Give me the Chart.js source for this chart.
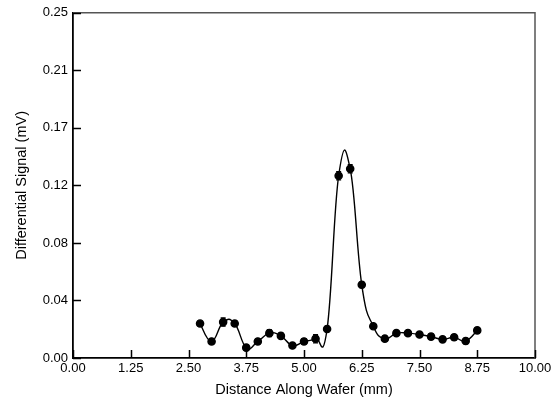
<!DOCTYPE html>
<html>
<head>
<meta charset="utf-8">
<script src="https://cdn.jsdelivr.net/npm/chart.js@4/dist/chart.umd.min.js"></script>
<style>
html,body{margin:0;padding:0;background:#fff;}
#wrap{width:557px;height:401px;}
</style>
</head>
<body>
<div id="wrap"><canvas id="c" width="557" height="401"></canvas></div>
<script>
// Data
const distances = [2.75, 3.00, 3.25, 3.50, 3.75, 4.00, 4.25, 4.50, 4.75, 5.00, 5.25, 5.50,
                   5.75, 6.00, 6.25, 6.50, 6.75, 7.00, 7.25, 7.50, 7.75, 8.00, 8.25, 8.50, 8.75];
const signals   = [0.025, 0.012, 0.026, 0.025, 0.0075, 0.012, 0.018, 0.016, 0.009, 0.012, 0.014, 0.021,
                   0.132, 0.137, 0.053, 0.023, 0.014, 0.018, 0.018, 0.017, 0.0155, 0.0135, 0.015, 0.0123, 0.020];
const errors    = [0.0015, 0.002, 0.003, 0.002, 0.002, 0.002, 0.0025, 0.002, 0.002, 0.002, 0.003, 0.002,
                   0.003, 0.003, 0.002, 0.0015, 0.002, 0.0015, 0.0015, 0.0015, 0.002, 0.002, 0.002, 0.002, 0.002];
const xTickValues = [0, 1.25, 2.5, 3.75, 5, 6.25, 7.5, 8.75, 10];
const xTickLabels = ['0.00', '1.25', '2.50', '3.75', '5.00', '6.25', '7.50', '8.75', '10.00'];
const yTickValues = [0, 0.25/6, 0.5/6, 0.75/6, 1/6, 1.25/6, 0.25];
const yTickLabels = ['0.00', '0.04', '0.08', '0.12', '0.17', '0.21', '0.25'];

const FONT = "'Liberation Sans', Arial, Helvetica, sans-serif";

// Uniform (Catmull-Rom style) spline control points for the line element,
// computed from the points the library placed through its scales.
const splinePlugin = {
  id: 'uniformSpline',
  beforeDatasetsDraw(chart) {
    chart.getSortedVisibleDatasetMetas().forEach(meta => {
      const line = meta.dataset;
      if (!line) return;
      line.updateControlPoints(chart.chartArea, 'x');
      const pts = meta.data;
      const k = (line.options.tension || 0) / 2;
      for (let i = 0; i < pts.length; i++) {
        const p = pts[i];
        const prev = pts[Math.max(0, i - 1)];
        const next = pts[Math.min(pts.length - 1, i + 1)];
        const dx = next.x - prev.x, dy = next.y - prev.y;
        p.cp1x = p.x - k * dx; p.cp1y = p.y - k * dy;
        p.cp2x = p.x + k * dx; p.cp2y = p.y + k * dy;
      }
      line._path = undefined;
    });
  }
};

const framePlugin = {
  id: 'frame',
  afterDatasetsDraw(chart) {
    const ctx = chart.ctx;
    const xs = chart.scales.x, ys = chart.scales.y;
    ctx.save();
    ctx.strokeStyle = '#000';
    ctx.lineWidth = 1.2;
    distances.forEach((d, i) => {
      const px = xs.getPixelForValue(d);
      const t = ys.getPixelForValue(signals[i] + errors[i]);
      const b = ys.getPixelForValue(signals[i] - errors[i]);
      ctx.beginPath();
      ctx.moveTo(px, t); ctx.lineTo(px, b);
      ctx.moveTo(px - 2.5, t); ctx.lineTo(px + 2.5, t);
      ctx.moveTo(px - 2.5, b); ctx.lineTo(px + 2.5, b);
      ctx.stroke();
    });
    ctx.restore();
  },
  afterDraw(chart) {
    const ctx = chart.ctx;
    const a = chart.chartArea;
    const xs = chart.scales.x, ys = chart.scales.y;
    ctx.save();
    ctx.strokeStyle = '#555';
    ctx.lineWidth = 1.5;
    ctx.beginPath();
    ctx.moveTo(a.left, a.top); ctx.lineTo(a.right, a.top); ctx.lineTo(a.right, a.bottom);
    ctx.stroke();
    ctx.strokeStyle = '#000';
    ctx.lineWidth = 1.5;
    ctx.beginPath();
    xTickValues.forEach(v => {
      const px = Math.round(xs.getPixelForValue(v)) + 0.5;
      ctx.moveTo(px, a.bottom); ctx.lineTo(px, a.bottom - 8);
    });
    yTickValues.forEach(v => {
      const py = Math.round(ys.getPixelForValue(v)) + 0.5;
      ctx.moveTo(a.left, py); ctx.lineTo(a.left + 8, py);
    });
    ctx.stroke();
    ctx.restore();
  }
};

new Chart(document.getElementById('c'), {
  type: 'line',
  data: {
    datasets: [{
      data: distances.map((d, i) => ({x: d, y: signals[i]})),
      borderColor: '#000',
      backgroundColor: '#000',
      borderWidth: 1.4,
      pointRadius: 3.6,
      pointBackgroundColor: '#000',
      pointBorderColor: '#000',
      tension: 0.44,
      cubicInterpolationMode: 'default',
      fill: false
    }]
  },
  options: {
    responsive: false,
    animation: false,
    devicePixelRatio: 1,
    layout: { padding: { top: 12, right: 22, bottom: 1, left: 0 } },
    plugins: { legend: { display: false }, tooltip: { enabled: false } },
    scales: {
      x: {
        type: 'linear', min: 0, max: 10,
        afterBuildTicks(s) { s.ticks = xTickValues.map(v => ({value: v})); },
        afterFit(s) { s.height = 42; },
        ticks: {
          autoSkip: false, maxRotation: 0, padding: 3,
          color: '#000', font: { family: FONT, size: 13 },
          callback(v, i) { return xTickLabels[i]; }
        },
        grid: { display: false, drawTicks: false },
        border: { display: true, color: '#000', width: 1.8 },
        title: { display: true, text: 'Distance Along Wafer (mm)', color: '#000',
                 font: { family: FONT, size: 14.5 }, padding: { top: 0, bottom: 1 } }
      },
      y: {
        type: 'linear', min: 0, max: 0.25,
        afterBuildTicks(s) { s.ticks = yTickValues.map(v => ({value: v})); },
        afterFit(s) { s.width = 73; },
        ticks: {
          autoSkip: false, padding: 5,
          color: '#000', font: { family: FONT, size: 13 },
          callback(v, i) { return yTickLabels[i]; }
        },
        grid: { display: false, drawTicks: false },
        border: { display: true, color: '#000', width: 1.8 },
        title: { display: true, text: 'Differential Signal (mV)', color: '#000',
                 font: { family: FONT, size: 14.5 }, padding: { top: 13, bottom: 0 } }
      }
    }
  },
  plugins: [splinePlugin, framePlugin]
});
</script>
</body>
</html>
